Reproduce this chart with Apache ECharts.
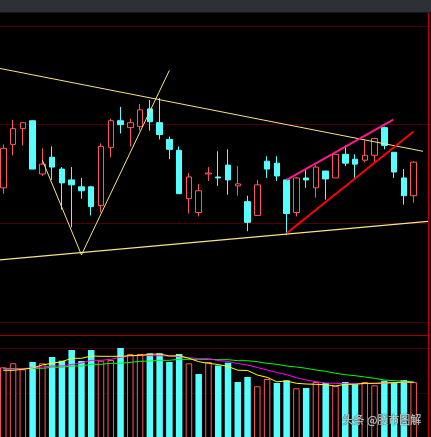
<!DOCTYPE html>
<html>
<head>
<meta charset="utf-8">
<script src="https://cdn.jsdelivr.net/npm/echarts@6/dist/echarts.min.js"></script>
<style>
html,body{margin:0;padding:0;background:#000;overflow:hidden;}
#chart{width:431px;height:437px;}
</style>
</head>
<body>
<div id="chart"></div>
<script>
// ---- data ----
const categories = ['1','2','3','4','5','6','7','8','9','10','11','12','13','14','15','16','17','18','19','20','21','22','23','24','25','26','27','28','29','30','31','32','33','34','35','36','37','38','39','40','41','42','43'];
const openP  = [10.36,10.80,10.96,11.04,10.50,10.67,10.55,10.44,10.37,10.37,10.18,10.77,11.04,10.97,10.98,11.16,11.02,10.85,10.74,10.25,10.11,10.50,10.47,10.59,10.38,10.22,10.08,10.63,10.61,10.44,10.11,10.46,10.36,10.53,10.46,10.70,10.65,10.64,10.69,10.97,10.72,10.46,10.28];
const closeP = [10.76,10.96,11.02,10.55,10.60,10.57,10.41,10.39,10.33,10.17,10.78,11.04,11.00,11.02,11.15,11.03,10.90,10.75,10.30,10.47,10.33,10.51,10.46,10.44,10.40,10.01,10.39,10.55,10.48,10.10,10.46,10.44,10.57,10.45,10.70,10.61,10.60,10.69,10.86,10.79,10.52,10.28,10.62];
const lowP   = [10.30,10.69,10.79,10.55,10.48,10.44,10.14,9.96,10.25,10.08,10.11,10.67,10.91,10.78,10.94,10.94,10.85,10.65,10.30,10.10,10.07,10.43,10.38,10.29,10.28,9.92,10.08,10.46,10.43,9.88,10.07,10.36,10.26,10.24,10.46,10.58,10.46,10.62,10.62,10.75,10.46,10.19,10.21];
const highP  = [10.80,11.05,11.02,11.04,10.76,10.78,10.57,10.57,10.46,10.38,10.81,11.06,11.18,11.06,11.21,11.25,11.27,10.88,10.78,10.51,10.40,10.57,10.73,10.75,10.58,10.28,10.44,10.68,10.68,10.45,10.47,10.54,10.59,10.53,10.70,10.79,10.70,10.84,10.86,10.98,10.72,10.55,10.63];
const volume = [70.7,74.7,68.7,76,74.7,81,77.3,88,77,88,77.3,78,90,84,84,84.7,84.7,76,84,74.7,64,76,72.5,75.3,56,61,51.7,59,55,57.7,49.7,50,56,55,52,56,53.7,56,52.7,57.3,56,58,56];
const volMA5  = [67.7,67.7,68.7,70,73,74.7,76.3,79.7,79.7,82,81.7,81.7,81.7,82.3,82.7,83.7,84,82,82.3,79.7,76.3,74.7,73.5,71.5,67.8,67.5,63,60.7,56.2,57,54.7,54,53.7,53.3,52,53.7,53.7,54.7,54.7,55,55.3,56,55.7];
const volMA10 = [69,69,69.5,70,71,72,72,73.5,75,77.7,77.7,78.7,80.7,82.3,82.5,82.3,82.3,82,81.3,80.3,79.3,79.3,77.5,76.5,74.5,73,70.5,68,65.5,63.3,60.3,58,56.3,55,54.7,54.3,54.3,54.3,54.7,55,55.3,56,55.3];
const volMA20 = [69.5,69.5,69.5,69.7,69.7,70.7,70.7,72,72,73.7,73.7,74.7,74.7,75.7,76.7,77,77.7,77.7,78.7,78.7,78.7,78.7,78.3,78.3,77.3,77.3,76.3,74.7,73.7,72,71,69.7,68,66.7,64.7,63.3,62.3,61,59.7,58,57.3,57,56];
// drawn trend lines: [candle index, price]
const trendUpper    = [[-0.34, 11.57], [42.96, 10.73]];
const trendLower    = [[-0.34, 9.63], [43.47, 10.02]];
const fanLine       = [[4, 10.64], [8, 9.68], [17, 11.55]];
const channelTop    = [[29, 10.44], [39.92, 11.05]];
const channelBottom = [[29, 9.90], [42.0, 10.93]];
const priceTicks = [9, 10, 11, 12];

// ---- build ----
const UP = '#ff5757', DOWN = '#55ffff';
const kData = categories.map((c, i) => [openP[i], closeP[i], lowP[i], highP[i]]);
const volData = volume.map((v, i) => {
  const up = i === 0 || closeP[i] >= closeP[i - 1];
  return {
    value: v,
    itemStyle: up ? {color: '#000', borderColor: UP, borderWidth: 1} : {color: DOWN, borderWidth: 0}
  };
});

const chart = echarts.init(document.getElementById('chart'), null, {renderer: 'canvas'});
const GL = -1.6, GW = 429.9;

function trend(data, color, width) {
  return {
    type: 'line', xAxisIndex: 2, yAxisIndex: 0, data: data, clip: false,
    symbol: 'none', silent: true, z: 5,
    lineStyle: {color: color, width: width}
  };
}
function maLine(data, color) {
  return {
    type: 'line', xAxisIndex: 1, yAxisIndex: 1, data: data, symbol: 'none',
    silent: true, z: 4, lineStyle: {color: color, width: 1}
  };
}

chart.setOption({
  animation: false,
  backgroundColor: '#000',
  grid: [
    {left: GL, width: GW, top: 26, height: 296, outerBoundsMode: 'none', containLabel: false},
    {left: GL, width: GW, top: 348, height: 90, outerBoundsMode: 'none', containLabel: false}
  ],
  xAxis: [
    {type: 'category', gridIndex: 0, data: categories, min: 0, max: 43, show: false},
    {type: 'category', gridIndex: 1, data: categories, min: 0, max: 43, show: false},
    {type: 'value', gridIndex: 0, min: -0.5, max: 43.5, show: false}
  ],
  yAxis: [
    {type: 'value', gridIndex: 0, min: priceTicks[0], max: priceTicks[priceTicks.length - 1], interval: 1,
     position: 'right', axisLine: {show: false}, axisTick: {show: false}, minorTick: {show: false},
     axisLabel: {show: false},
     splitLine: {show: true, lineStyle: {color: '#4e0000', width: 1}}},
    {type: 'value', gridIndex: 1, min: 0, max: 90, interval: 45,
     position: 'right', axisLine: {show: false}, axisTick: {show: false}, minorTick: {show: false},
     axisLabel: {show: false},
     splitLine: {show: true, lineStyle: {color: ['#000000', '#2c0404', '#520000'], width: 1}}}
  ],
  series: [
    {type: 'candlestick', xAxisIndex: 0, yAxisIndex: 0, data: kData, barWidth: 6,
     itemStyle: {color: '#000', color0: DOWN, borderColor: UP, borderColor0: DOWN, borderWidth: 1}},
    {type: 'bar', xAxisIndex: 1, yAxisIndex: 1, data: volData, barWidth: 6.5, z: 2},
    maLine(volMA20, '#00ff00'),
    maLine(volMA10, '#ff00ff'),
    maLine(volMA5, '#ffff00'),
    trend(trendUpper, '#f7e38a', 1),
    trend(trendLower, '#f7e38a', 1.2),
    trend(fanLine, '#f7e38a', 1),
    trend(channelTop, '#ff1a8c', 2),
    trend(channelBottom, '#ff0000', 2)
  ],
  graphic: [
    {type: 'rect', shape: {x: 0, y: 0, width: 431, height: 12.5}, style: {fill: '#2d3035'}, z: 100},
    {type: 'line', shape: {x1: 0, y1: 335.5, x2: 428, y2: 335.5}, style: {stroke: '#a00000', lineWidth: 1}, z: 50},
    {type: 'line', shape: {x1: 428.5, y1: 12.5, x2: 428.5, y2: 437}, style: {stroke: '#cc0000', lineWidth: 1}, z: 60},
    {type: 'text', left: 342, top: 414, z: 100,
     style: {text: '头条 @股市图解', fill: 'rgba(230,230,230,0.85)', font: '11px "Noto Sans CJK SC"',
             stroke: 'rgba(60,60,60,0.6)', lineWidth: 1}}
  ]
});
</script>
</body>
</html>
